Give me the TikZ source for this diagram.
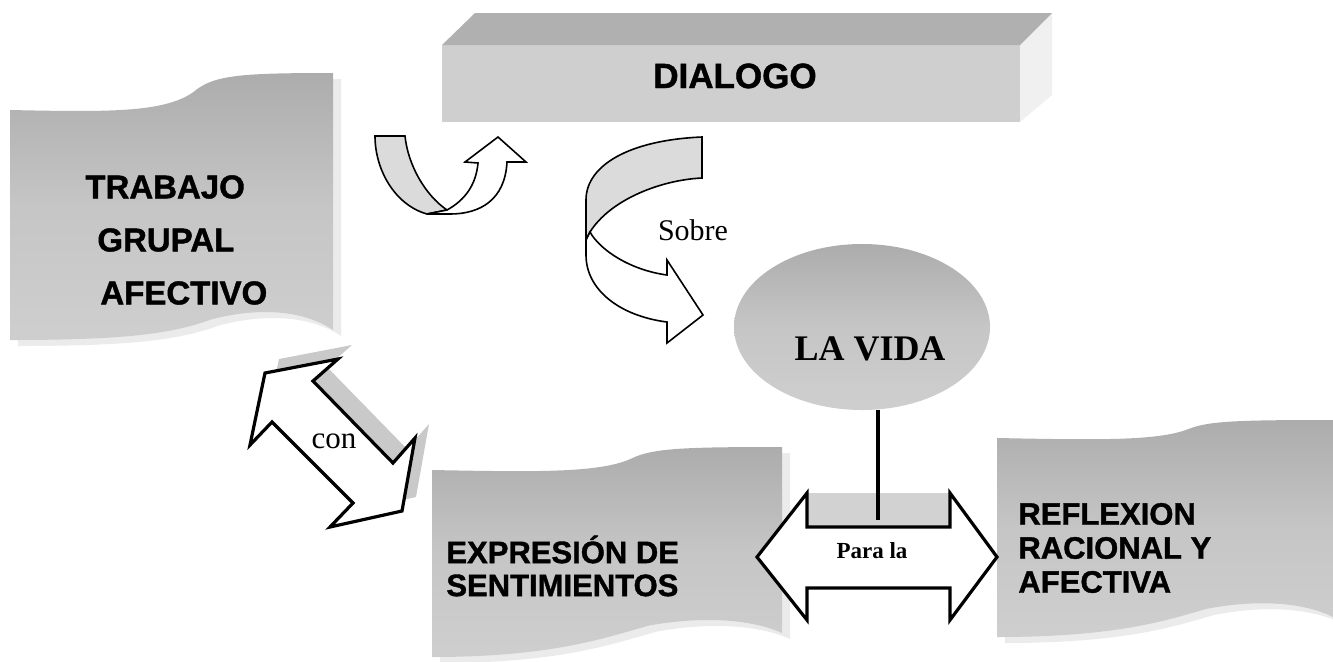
\documentclass[tikz,border=0pt]{standalone}
\usepackage{fontspec}
\setmainfont{Liberation Serif}[BoldFont={Liberation Serif Bold}]
\setsansfont{Liberation Sans}[BoldFont={Liberation Sans Bold},BoldFeatures={FakeBold=1.2}]
\usetikzlibrary{shapes.geometric}

\newcommand{\onda}[4]{(0,#2) .. controls ({0.3*#1},{#2+2}) and ({0.48*#1},{#2+3}) .. ({0.57*#1},{0.5*#2}) .. controls ({0.63*#1},{0.05*#2}) and ({0.72*#1},0) .. (#1,0) -- (#1,#3) .. controls ({0.9*#1},{0.915*#3}) and ({0.75*#1},{0.915*#3}) .. ({0.62*#1},{0.96*#3}) .. controls ({0.5*#1},{#3+4}) and ({0.35*#1},#4) .. (0,#4) -- cycle}

\begin{document}
\begin{tikzpicture}[x=0.5pt,y=-0.5pt,
  trama/.style={top color=gray!65, bottom color=gray!38, middle color=gray!45},
  sombra/.style={fill=gray!16},
  letrero/.style={font=\sffamily\bfseries\fontsize{15.5}{17}\selectfont, align=left, inner sep=0pt},
  cinta/.style={draw, line width=0.8pt, fill=white},
  reves/.style={draw, line width=0.8pt, fill=gray!28},
  flecha/.style={draw, line width=1.6pt, fill=white, line join=miter}]

\useasboundingbox (0,0) rectangle (1333,661);

\begin{scope}[shift={(10,73)}]
\fill[sombra,shift={(8,6)}] \onda{323}{37}{257}{267};
\path[trama] \onda{323}{37}{257}{267};
\end{scope}

\begin{scope}[shift={(432,447)}]
\fill[sombra,shift={(8,6)}] \onda{350}{23}{186}{210};
\path[trama] \onda{350}{23}{186}{210};
\end{scope}

\begin{scope}[shift={(997,420)}]
\fill[sombra,shift={(8,6)}] \onda{336}{18}{197}{217};
\path[trama] \onda{336}{18}{197}{217};
\end{scope}

\node[letrero, font=\sffamily\bfseries\fontsize{16.5}{26.5}\selectfont, anchor=west] (trabajo) at (85,240) {TRABAJO\\\hspace{6pt}GRUPAL\\\hspace{7.5pt}AFECTIVO};
\node[letrero, font=\sffamily\bfseries\fontsize{15.5}{16.5}\selectfont, anchor=west] (expresion) at (446,566) {EXPRESIÓN DE\\SENTIMIENTOS};
\node[letrero, anchor=west] (reflexion) at (1018,548) {REFLEXION\\RACIONAL Y\\AFECTIVA};

% caja
\fill[gray!12] (1020,45) -- (1052,13) -- (1052,95) -- (1020,122) -- cycle;
\fill[gray!38] (442,45) rectangle (1020,122);
\fill[gray!62] (442,45) -- (475,13) -- (1052,13) -- (1020,45) -- cycle;
\node[font=\sffamily\bfseries\fontsize{17.5}{20}\selectfont, anchor=base] (dialogo) at (735,88) {DIALOGO};

% vuelta
\path[reves] (375,136) -- (405,136) .. controls (408,165) and (425,195) .. (447,210) -- (427,214) .. controls (395,205) and (375,170) .. (375,136) -- cycle;
\path[cinta] (447,210) .. controls (465,200) and (476,185) .. (478,163) -- (465,162) -- (498,137) -- (526,162) -- (507,162) .. controls (505,200) and (480,214) .. (450,214) -- (427,214) -- cycle;

\path[reves] (702,137) -- (702,178) .. controls (660,180) and (610,200) .. (590,232) -- (586,240) -- (586,200) .. controls (586,165) and (630,140) .. (702,137) -- cycle;
\path[cinta] (590,232) .. controls (600,250) and (630,270) .. (667,275) -- (667,260) -- (703,315) -- (667,343) -- (667,322) .. controls (620,316) and (586,290) .. (586,255) -- (586,240) -- cycle;
\node[font=\fontsize{15}{17}\selectfont, anchor=base] (sobre) at (693,240) {Sobre};

% con
\path[flecha, fill=gray!42, draw=none, shift={(14,-14)}] (265,373) -- (338,359) -- (313,381) -- (393,463) -- (415,438) -- (402,511) -- (330,527) -- (353,503) -- (272,422) -- (250,445) -- cycle;
\path[flecha] (265,373) -- (338,359) -- (313,381) -- (393,463) -- (415,438) -- (402,511) -- (330,527) -- (353,503) -- (272,422) -- (250,445) -- cycle;
\node[font=\fontsize{15.5}{17}\selectfont, anchor=base] (con) at (334,448) {con};

% para la
\fill[gray!35] (807,493) rectangle (950,527);
\path[flecha] (757,557) -- (807,493) -- (807,527) -- (950,527) -- (950,493) -- (997,557) -- (950,620) -- (950,588) -- (807,588) -- (807,620) -- cycle;
\node[font=\bfseries\fontsize{11.5}{13}\selectfont] (parala) at (872,551) {Para la};

\node[ellipse, trama, minimum width=128pt, minimum height=83pt, inner sep=0pt] (vida) at (862,327) {};
\node[font=\bfseries\fontsize{18}{20}\selectfont, anchor=base] (vidatxt) at (870,360) {LA VIDA};
\coordinate (pie) at (878,520);
\draw[line width=1.8pt] (vida.south -| pie) -- (pie);

\end{tikzpicture}
\end{document}
